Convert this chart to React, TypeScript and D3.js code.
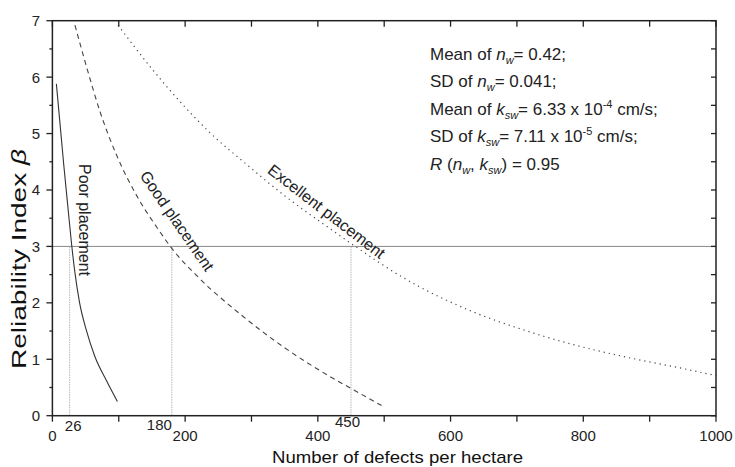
import React from "react";
import * as d3 from "d3";

// ---- data ----
const poorX = [6, 17, 23, 29, 34, 41, 51, 64, 82, 98];
const poorY = [5.88, 4.46, 3.74, 3.03, 2.53, 2.0, 1.52, 1.05, 0.61, 0.25];

const goodX = [34, 52, 72, 97, 127, 162, 177, 222, 283, 348, 413, 455, 496];
const goodY = [6.92, 6.16, 5.38, 4.61, 3.9, 3.26, 3.01, 2.43, 1.8, 1.22, 0.73, 0.45, 0.18];

const excX = [99, 147, 192, 237, 293, 353, 413, 454, 534, 634, 710, 785, 860, 936, 1000];
const excY = [6.92, 6.19, 5.57, 5.02, 4.45, 3.87, 3.36, 3.02, 2.41, 1.84, 1.52, 1.26, 1.05, 0.87, 0.71];

const xTickLabels = [0, 200, 400, 600, 800, 1000];
const xMinorTicks = [0, 100, 200, 300, 400, 500, 600, 700, 800, 900, 1000];
const yTickLabels = [0, 1, 2, 3, 4, 5, 6, 7];
const yMinorTicks = [0.5, 1.5, 2.5, 3.5, 4.5, 5.5, 6.5];
const markerValues = [26, 180, 450];
const targetBeta = 3;

const W = 735;
const H = 467;
const L = 52.4;
const R = 716;
const T = 20.7;
const B = 415.7;

const FONT = "'Liberation Sans', Arial, Helvetica, sans-serif";

export default function App() {
  const x = d3.scaleLinear().domain([0, 1000]).range([L, R]);
  const y = d3.scaleLinear().domain([0, 7]).range([B, T]);
  const line = d3
    .line<[number, number]>()
    .x((d) => x(d[0]))
    .y((d) => y(d[1]))
    .curve(d3.curveMonotoneX);

  const poor = line(poorX.map((v, i) => [v, poorY[i]] as [number, number])) || "";
  const good = line(goodX.map((v, i) => [v, goodY[i]] as [number, number])) || "";
  const exc = line(excX.map((v, i) => [v, excY[i]] as [number, number])) || "";

  const allHalf = [...yTickLabels, ...yMinorTicks];
  const markerLabelPos = [
    { anchor: "middle", dx: 3.5, base: 431 },
    { anchor: "end", dx: 0, base: 430 },
    { anchor: "middle", dx: -3.5, base: 427 },
  ];

  const sub = 11;
  return (
    <svg
      width={W}
      height={H}
      style={{ position: "absolute", left: 0, top: 0, background: "#fff" }}
      fontFamily={FONT}
    >
      <rect x={0} y={0} width={W} height={H} fill="#fff" />

      {/* reference line at beta = 3 */}
      <line x1={L} x2={R} y1={y(targetBeta)} y2={y(targetBeta)} stroke="#888" strokeWidth={1} />

      {/* vertical marker lines */}
      {markerValues.map((m) => (
        <line
          key={"m" + m}
          x1={x(m)}
          x2={x(m)}
          y1={y(0)}
          y2={y(targetBeta)}
          stroke="#b5b5b5"
          strokeWidth={1}
          strokeDasharray="1.5,1"
        />
      ))}

      {/* curves */}
      <path d={poor} fill="none" stroke="#333" strokeWidth={1.1} />
      <path d={good} fill="none" stroke="#444" strokeWidth={1.1} strokeDasharray="5,4" />
      <path d={exc} fill="none" stroke="#444" strokeWidth={1.2} strokeDasharray="1.2,4" />

      {/* curve labels */}
      <text
        transform={`translate(84,220) rotate(90)`}
        textAnchor="middle"
        dominantBaseline="central"
        fontSize={16}
        fill="#222"
      >
        Poor placement
      </text>
      <text
        transform={`translate(177,221) rotate(55.5)`}
        textAnchor="middle"
        dominantBaseline="central"
        fontSize={16}
        fill="#222"
      >
        Good placement
      </text>
      <text
        transform={`translate(326.5,211.5) rotate(37.6)`}
        textAnchor="middle"
        dominantBaseline="central"
        fontSize={16}
        fill="#222"
      >
        Excellent placement
      </text>

      {/* frame */}
      <rect x={L} y={T} width={R - L} height={B - T} fill="none" stroke="#222" strokeWidth={1.5} />

      {/* bottom ticks (outward) and top ticks (inward) */}
      {xMinorTicks.map((t) => (
        <g key={"xt" + t}>
          <line x1={x(t)} x2={x(t)} y1={B} y2={B + 6} stroke="#222" strokeWidth={1.3} />
          <line x1={x(t)} x2={x(t)} y1={T} y2={T + 6} stroke="#222" strokeWidth={1.3} />
        </g>
      ))}

      {/* left ticks (outward) and right ticks (inward) */}
      {yTickLabels.map((t) => (
        <line key={"yl" + t} x1={L - 6} x2={L} y1={y(t)} y2={y(t)} stroke="#222" strokeWidth={1.3} />
      ))}
      {yMinorTicks.map((t) => (
        <line key={"ym" + t} x1={L - 3} x2={L} y1={y(t)} y2={y(t)} stroke="#222" strokeWidth={1.3} />
      ))}
      {allHalf.map((t) => (
        <line key={"yr" + t} x1={R - 5} x2={R} y1={y(t)} y2={y(t)} stroke="#222" strokeWidth={1.3} />
      ))}

      {/* tick labels */}
      {xTickLabels.map((t) => (
        <text key={"xl" + t} x={x(t)} y={441} textAnchor="middle" fontSize={15} fill="#222">
          {t}
        </text>
      ))}
      {markerValues.map((m, i) => (
        <text
          key={"ml" + m}
          x={x(m) + markerLabelPos[i].dx}
          y={markerLabelPos[i].base}
          textAnchor={markerLabelPos[i].anchor as any}
          fontSize={15}
          fill="#222"
        >
          {m}
        </text>
      ))}
      {yTickLabels.map((t) => (
        <text
          key={"yt" + t}
          x={40}
          y={y(t)}
          dy="0.36em"
          textAnchor="end"
          fontSize={15}
          fill="#222"
        >
          {t}
        </text>
      ))}

      {/* axis titles */}
      <text
        x={397.5}
        y={463}
        textAnchor="middle"
        fontSize={17}
        fill="#111"
        textLength={251}
        lengthAdjust="spacingAndGlyphs"
      >
        Number of defects per hectare
      </text>
      <text
        transform="translate(26,259) rotate(-90)"
        textAnchor="middle"
        fontSize={20.5}
        fill="#111"
        textLength={220}
        lengthAdjust="spacingAndGlyphs"
      >
        Reliability Index <tspan fontStyle="italic">β</tspan>
      </text>

      {/* annotation */}
      <g fontSize={17} fill="#222">
        <text x={430} y={59.5}>
          Mean of <tspan fontStyle="italic">n</tspan>
          <tspan fontStyle="italic" fontSize={sub} dy={4}>w</tspan>
          <tspan dy={-4}>= 0.42;</tspan>
        </text>
        <text x={430} y={87}>
          SD of <tspan fontStyle="italic">n</tspan>
          <tspan fontStyle="italic" fontSize={sub} dy={4}>w</tspan>
          <tspan dy={-4}>= 0.041;</tspan>
        </text>
        <text x={430} y={114.5}>
          Mean of <tspan fontStyle="italic">k</tspan>
          <tspan fontStyle="italic" fontSize={sub} dy={4}>sw</tspan>
          <tspan dy={-4}>= 6.33 x 10</tspan>
          <tspan fontSize={sub} dy={-7}>-4</tspan>
          <tspan dy={7}> cm/s;</tspan>
        </text>
        <text x={430} y={142}>
          SD of <tspan fontStyle="italic">k</tspan>
          <tspan fontStyle="italic" fontSize={sub} dy={4}>sw</tspan>
          <tspan dy={-4}>= 7.11 x 10</tspan>
          <tspan fontSize={sub} dy={-7}>-5</tspan>
          <tspan dy={7}> cm/s;</tspan>
        </text>
        <text x={430} y={170}>
          <tspan fontStyle="italic">R</tspan> (<tspan fontStyle="italic">n</tspan>
          <tspan fontStyle="italic" fontSize={sub} dy={4}>w</tspan>
          <tspan dy={-4}>, </tspan>
          <tspan fontStyle="italic">k</tspan>
          <tspan fontStyle="italic" fontSize={sub} dy={4}>sw</tspan>
          <tspan dy={-4}>) = 0.95</tspan>
        </text>
      </g>
    </svg>
  );
}
